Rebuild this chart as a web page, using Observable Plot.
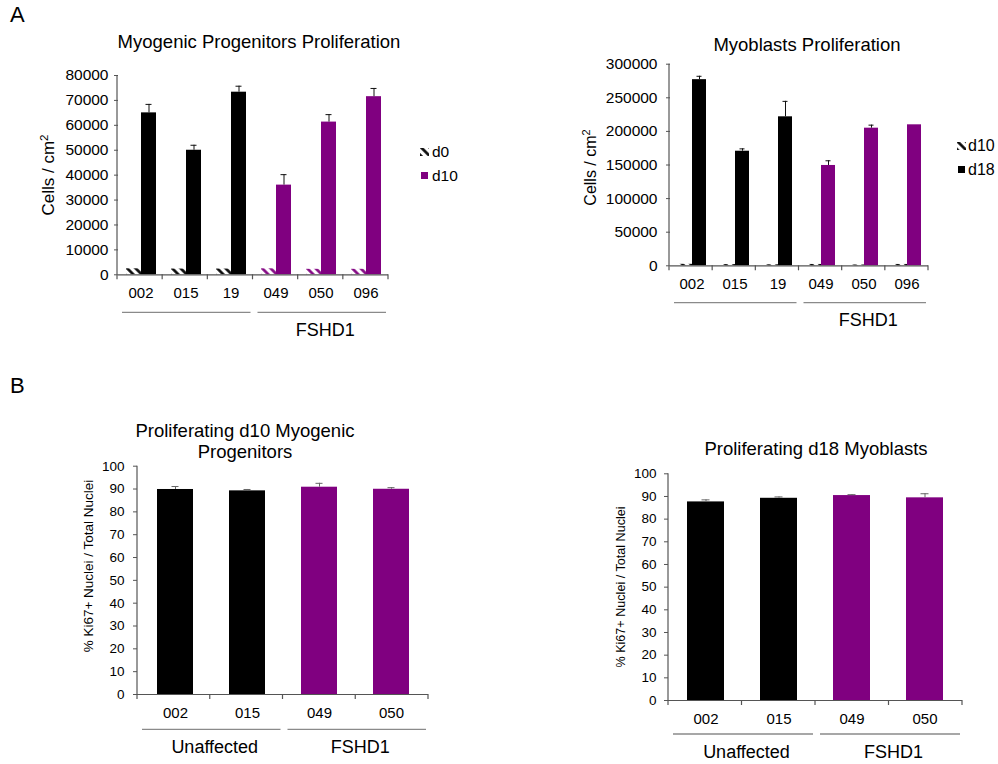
<!DOCTYPE html>
<html>
<head>
<meta charset="utf-8">
<script src="https://cdn.jsdelivr.net/npm/d3@7"></script>
<script src="https://cdn.jsdelivr.net/npm/@observablehq/plot@0.6"></script>
<style>
  html, body { margin: 0; padding: 0; background: #fff; overflow: hidden; }
  #fig { position: relative; width: 998px; height: 764px; background: #fff; }
  .panel { position: absolute; }
</style>
</head>
<body>
<div id="fig"></div>
<svg width="0" height="0" style="position:absolute">
  <defs>
    <pattern id="hatchK" patternUnits="userSpaceOnUse" width="6" height="6" patternTransform="rotate(-45)">
      <line x1="1.5" y1="0" x2="1.5" y2="6" stroke="#000" stroke-width="2.6"/>
    </pattern>
    <pattern id="hatchP" patternUnits="userSpaceOnUse" width="6" height="6" patternTransform="rotate(-45)">
      <line x1="1.5" y1="0" x2="1.5" y2="6" stroke="#800080" stroke-width="2.6"/>
    </pattern>
  </defs>
</svg>
<script>
// ---------------- DATA ----------------
const linesA = ["002", "015", "19", "049", "050", "096"];
const statusA = ["Unaffected", "Unaffected", "Unaffected", "FSHD1", "FSHD1", "FSHD1"];

const progSeries = ["d0", "d10"];
const progD0 = [2400, 2300, 2300, 2400, 2200, 2200];
const progD10 = [65000, 50000, 73300, 36000, 61300, 71500];
const progD10Err = [3400, 2000, 2400, 4200, 3000, 3300];
const progYTicks = [0, 10000, 20000, 30000, 40000, 50000, 60000, 70000, 80000];

const mbSeries = ["d10", "d18"];
const mbD10 = [2200, 1800, 1500, 2000, 1200, 2000];
const mbD18 = [277000, 170500, 221700, 149300, 204800, 209800];
const mbD18Err = [5000, 3500, 23000, 7000, 4500, 0];
const mbYTicks = [0, 50000, 100000, 150000, 200000, 250000, 300000];

const linesB = ["002", "015", "049", "050"];
const statusB = ["Unaffected", "Unaffected", "FSHD1", "FSHD1"];
const ki67D10 = [89.8, 89.2, 90.8, 89.9];
const ki67D10Err = [1.3, 0.6, 1.7, 0.7];
const ki67D18 = [87.6, 89.2, 90.4, 89.4];
const ki67D18Err = [0.9, 0.6, 0.4, 1.8];
const pctYTicks = [0, 10, 20, 30, 40, 50, 60, 70, 80, 90, 100];

// ---------------- STYLE ----------------
const FONT = '"Liberation Sans", Arial, Helvetica, sans-serif';
const PURPLE = "#800080";
const AXIS = "#555";
const fig = document.getElementById("fig");

function margins(c) {
  return {
    marginLeft: c.frame.x0 - c.left,
    marginRight: c.left + c.width - c.frame.x1,
    marginTop: c.frame.y0 - c.top,
    marginBottom: c.top + c.height - c.frame.y1
  };
}

function place(plot, c) {
  const div = document.createElement("div");
  div.className = "panel";
  div.style.left = c.left + "px";
  div.style.top = c.top + "px";
  div.appendChild(plot);
  fig.appendChild(div);
}

function decorate(plot, c, bandName) {
  const svg = d3.select(plot);
  const xs = plot.scale(bandName), ys = plot.scale("y");
  const a = Math.min(...xs.range), b = Math.max(...xs.range);
  const n = xs.domain.length, step = (b - a) / n;
  const y0 = ys.apply(0), yT = ys.apply(c.yDomain[1]);
  const g = svg.append("g").attr("font-family", FONT);
  // y axis line
  g.append("line").attr("x1", a).attr("x2", a).attr("y1", y0).attr("y2", yT)
    .attr("stroke", AXIS).attr("stroke-width", 1.2);
  // category boundary ticks
  d3.range(n + 1).forEach(i => {
    g.append("line").attr("x1", a + i * step).attr("x2", a + i * step)
      .attr("y1", y0).attr("y2", y0 + 5).attr("stroke", AXIS).attr("stroke-width", 1.2);
  });
  // group underlines and labels
  const runs = [];
  c.status.forEach((s, i) => {
    if (runs.length && runs[runs.length - 1].s === s) runs[runs.length - 1].e = i;
    else runs.push({s, b: i, e: i});
  });
  runs.forEach(r => {
    const xa = a + r.b * step, xb = a + (r.e + 1) * step;
    g.append("line").attr("x1", xa + 5).attr("x2", xb - 2)
      .attr("y1", y0 + c.lineDy).attr("y2", y0 + c.lineDy)
      .attr("stroke", "#8a8a8a").attr("stroke-width", 1.3);
    const lab = c.groupLabels[r.s];
    if (lab) {
      g.append("text").attr("x", (xa + xb) / 2 + 5).attr("y", y0 + c.labelDy)
        .attr("text-anchor", "middle").attr("font-size", 18).attr("fill", "#000").text(lab);
    }
  });
  // free texts (page coordinates -> local)
  (c.texts || []).forEach(t => {
    const el = g.append("text").attr("font-size", t.size).attr("fill", "#000")
      .attr("text-anchor", t.anchor || "middle");
    if (t.rotate) {
      el.attr("transform", `translate(${t.x - c.left},${t.y - c.top}) rotate(-90)`).attr("dy", "0.35em");
    } else {
      el.attr("x", t.x - c.left).attr("y", t.y - c.top);
    }
    if (t.sup) {
      el.append("tspan").text(t.text);
      el.append("tspan").attr("baseline-shift", "super").attr("font-size", "68%").text(t.sup);
    } else el.text(t.text);
  });
  (c.icons || []).forEach(r => {
    g.append("rect").attr("x", r.x - c.left).attr("y", r.y - c.top)
      .attr("width", r.w).attr("height", r.h).attr("fill", r.fill);
  });
}

function groupedPanel(c) {
  const rows = c.lines.flatMap((l, i) => [
    {line: l, status: c.status[i], series: c.series[0], value: c.v0[i], err: 0},
    {line: l, status: c.status[i], series: c.series[1], value: c.v1[i], err: c.err[i]}
  ]);
  const bar = (filter, fill) => Plot.barY(rows, {filter, fx: "line", x: "series", y: "value", fill});
  const plot = Plot.plot({
    width: c.width, height: c.height, ...margins(c),
    style: {fontFamily: FONT, fontSize: c.tickFont + "px", background: "transparent", overflow: "visible", color: "#000"},
    fx: {domain: c.lines, padding: 0, label: null},
    x: {domain: c.series, paddingInner: 0, paddingOuter: 0.5, axis: null},
    y: {domain: c.yDomain, label: null},
    marks: [
      Plot.axisY(c.yTicks, {tickSize: 4, tickPadding: c.tickPad, tickFormat: d3.format("d"), label: null, stroke: AXIS, fontSize: c.tickFont}),
      Plot.axisFx({anchor: "bottom", tickSize: 0, tickPadding: 13, label: null, fontSize: c.catFont}),
      bar(d => d.series === c.series[0] && d.status === "Unaffected", "url(#hatchK)"),
      bar(d => d.series === c.series[0] && d.status === "FSHD1", c.hatchFSHD),
      bar(d => d.series === c.series[1] && d.status === "Unaffected", "#000"),
      bar(d => d.series === c.series[1] && d.status === "FSHD1", PURPLE),
      Plot.ruleY([0], {stroke: AXIS, strokeWidth: 1.2}),
      Plot.ruleX(rows, {filter: d => d.err > 0, fx: "line", x: "series", y1: "value", y2: d => d.value + d.err, stroke: "#111"}),
      Plot.tickY(rows, {filter: d => d.err > 0, fx: "line", x: "series", y: d => d.value + d.err, stroke: "#111", insetLeft: c.capInset, insetRight: c.capInset})
    ]
  });
  decorate(plot, c, "fx");
  place(plot, c);
}

function singlePanel(c) {
  const rows = c.lines.map((l, i) => ({line: l, status: c.status[i], value: c.v[i], err: c.err[i]}));
  const bar = (filter, fill) => Plot.barY(rows, {filter, x: "line", y: "value", fill});
  const plot = Plot.plot({
    width: c.width, height: c.height, ...margins(c),
    style: {fontFamily: FONT, fontSize: c.tickFont + "px", background: "transparent", overflow: "visible", color: "#000"},
    x: {domain: c.lines, paddingInner: 0.5, paddingOuter: 0.25, label: null},
    y: {domain: c.yDomain, label: null},
    marks: [
      Plot.axisY(c.yTicks, {tickSize: 4, tickPadding: c.tickPad, label: null, stroke: AXIS, fontSize: c.tickFont}),
      Plot.axisX({tickSize: 0, tickPadding: 13, label: null, fontSize: c.catFont}),
      bar(d => d.status === "Unaffected", "#000"),
      bar(d => d.status === "FSHD1", PURPLE),
      Plot.ruleY([0], {stroke: AXIS, strokeWidth: 1.2}),
      Plot.ruleX(rows, {x: "line", y1: "value", y2: d => d.value + d.err, stroke: "#666"}),
      Plot.tickY(rows, {x: "line", y: d => d.value + d.err, stroke: "#666", insetLeft: c.capInset, insetRight: c.capInset})
    ]
  });
  decorate(plot, c, "x");
  place(plot, c);
}

// Panel A left
groupedPanel({
  left: 0, top: 0, width: 500, height: 370,
  frame: {x0: 117, x1: 388, y0: 75, y1: 274.3},
  lines: linesA, status: statusA, series: progSeries,
  v0: progD0, v1: progD10, err: progD10Err,
  yDomain: [0, 80000], yTicks: progYTicks,
  tickFont: 15.5, catFont: 15, tickPad: 6, capInset: 4.5,
  hatchFSHD: "url(#hatchP)",
  lineDy: 38, labelDy: 62, groupLabels: {FSHD1: "FSHD1"},
  texts: [
    {x: 10, y: 22, text: "A", size: 22, anchor: "start"},
    {x: 259, y: 48, text: "Myogenic Progenitors Proliferation", size: 18.5},
    {x: 48, y: 175, text: "Cells / cm", sup: "2", size: 17, rotate: true},
    {x: 432, y: 157, text: "d0", size: 15.5, anchor: "start"},
    {x: 432, y: 181, text: "d10", size: 15.5, anchor: "start"}
  ],
  icons: [
    {x: 420, y: 148, w: 9, h: 8, fill: "url(#hatchK)"},
    {x: 421, y: 172, w: 7, h: 7, fill: PURPLE}
  ]
});

// Panel A right
groupedPanel({
  left: 500, top: 0, width: 498, height: 370,
  frame: {x0: 669, x1: 928, y0: 63.7, y1: 265.3},
  lines: linesA, status: statusA, series: mbSeries,
  v0: mbD10, v1: mbD18, err: mbD18Err,
  yDomain: [0, 300000], yTicks: mbYTicks,
  tickFont: 15.5, catFont: 15, tickPad: 9, capInset: 4.5,
  hatchFSHD: "url(#hatchK)",
  lineDy: 37.4, labelDy: 61, groupLabels: {FSHD1: "FSHD1"},
  texts: [
    {x: 807, y: 51, text: "Myoblasts Proliferation", size: 18.5},
    {x: 590, y: 167.5, text: "Cells / cm", sup: "2", size: 16, rotate: true},
    {x: 968, y: 151, text: "d10", size: 16, anchor: "start"},
    {x: 968, y: 174.5, text: "d18", size: 16, anchor: "start"}
  ],
  icons: [
    {x: 957, y: 142, w: 9, h: 8, fill: "url(#hatchK)"},
    {x: 958, y: 166, w: 7, h: 7, fill: "#000"}
  ]
});

// Panel B left
singlePanel({
  left: 0, top: 380, width: 500, height: 384,
  frame: {x0: 137, x1: 428, y0: 465.7, y1: 694},
  lines: linesB, status: statusB, v: ki67D10, err: ki67D10Err,
  yDomain: [0, 100], yTicks: pctYTicks,
  tickFont: 13.5, catFont: 15, tickPad: 9, capInset: 14.5,
  lineDy: 35.3, labelDy: 59, groupLabels: {Unaffected: "Unaffected", FSHD1: "FSHD1"},
  texts: [
    {x: 10, y: 393, text: "B", size: 22, anchor: "start"},
    {x: 245, y: 437, text: "Proliferating d10 Myogenic", size: 18.5},
    {x: 245, y: 458, text: "Progenitors", size: 18.5},
    {x: 88, y: 566, text: "% Ki67+ Nuclei / Total Nuclei", size: 13.5, rotate: true}
  ]
});

// Panel B right
singlePanel({
  left: 500, top: 380, width: 498, height: 384,
  frame: {x0: 668, x1: 962, y0: 473.3, y1: 700},
  lines: linesB, status: statusB, v: ki67D18, err: ki67D18Err,
  yDomain: [0, 100], yTicks: pctYTicks,
  tickFont: 13.5, catFont: 15, tickPad: 8, capInset: 14.5,
  lineDy: 34, labelDy: 58, groupLabels: {Unaffected: "Unaffected", FSHD1: "FSHD1"},
  texts: [
    {x: 816, y: 455, text: "Proliferating d18 Myoblasts", size: 18.5},
    {x: 621, y: 587, text: "% Ki67+ Nuclei / Total Nuclei", size: 12.6, rotate: true}
  ]
});
</script>
</body>
</html>
